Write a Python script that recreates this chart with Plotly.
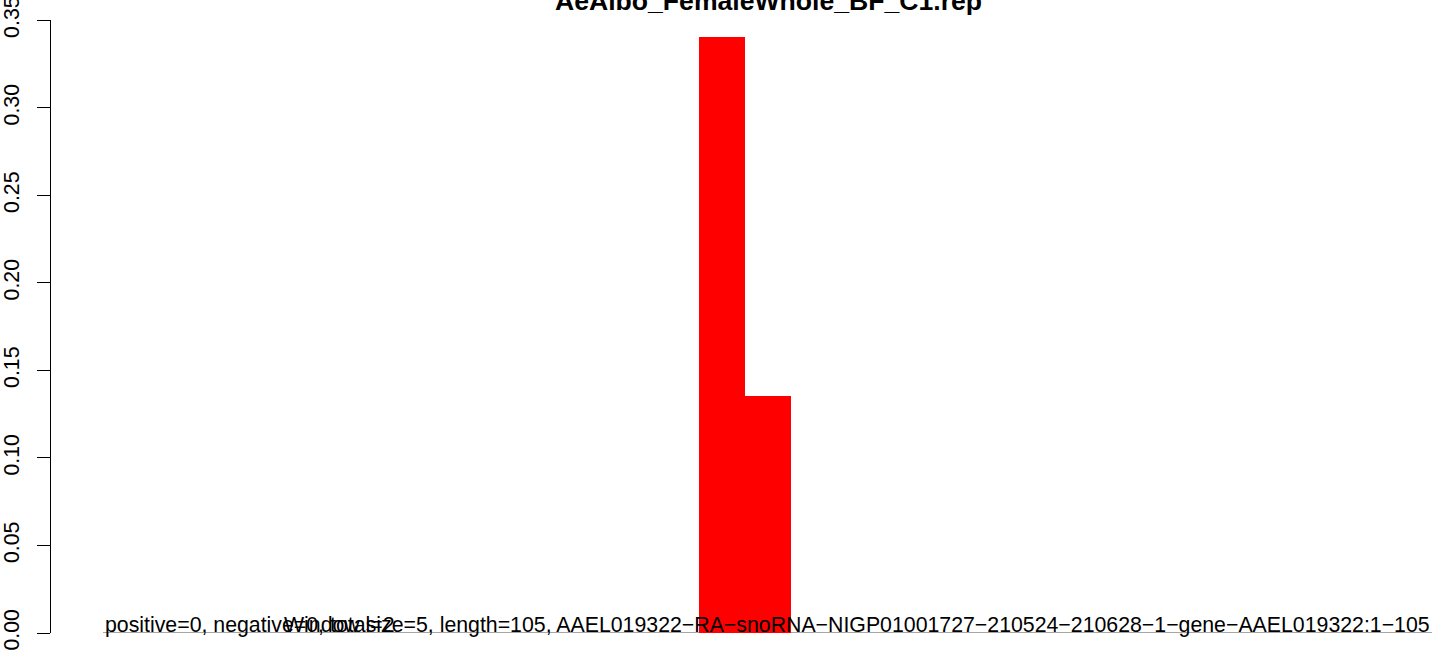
import plotly.graph_objects as go

# Data
window_starts = [65, 70]          # bp position of each window start
window_size = 5
values = [0.3403, 0.1353]
y_ticks = [0.0, 0.05, 0.10, 0.15, 0.20, 0.25, 0.30, 0.35]
title_text = "AeAlbo_FemaleWhole_BF_C1.rep"
info_left = "positive=0, negative=0, total=2"
info_right = ("Window size=5, length=105, AAEL019322\u2212RA\u2212snoRNA\u2212NIGP01001727"
              "\u2212210524\u2212210628\u22121\u2212gene\u2212AAEL019322:1\u2212105")

FONT = "Liberation Sans, Arial, Helvetica, sans-serif"
W, H = 1444, 656
ML, MR, MT, MB = 50, 10, 20, 23
plot_w = W - ML - MR
plot_h = H - MT - MB
x_left_px = 103
dom0 = (x_left_px - ML) / plot_w
BASE = 21.3
YMAX = 0.3502

centers = [s + window_size / 2 for s in window_starts]

fig = go.Figure()
fig.add_trace(go.Bar(
    x=centers, y=values, width=[window_size] * len(values),
    marker=dict(color="#ff0000", line=dict(width=0)),
    hoverinfo="skip", showlegend=False,
))

fig.add_shape(type="line", xref="x domain", yref="y", x0=0, x1=0.9985, y0=0, y1=0,
              line=dict(color="#4d4d4d", width=1), layer="below")

def py(px_from_top):
    return (H - MB - px_from_top) / plot_h

fig.add_annotation(text="<b>" + title_text + "</b>", xref="x domain", yref="paper",
                   x=0.5, y=py(12 + 6), xanchor="center", yanchor="bottom",
                   showarrow=False, font=dict(family=FONT, size=26.6, color="black"))
fig.add_annotation(text=info_left, xref="paper", yref="paper",
                   x=dom0, y=py(625), xanchor="left", yanchor="middle",
                   showarrow=False, font=dict(family=FONT, size=BASE, color="black"))
fig.add_annotation(text=info_right, xref="paper", yref="paper",
                   x=(1432 - ML) / plot_w, y=py(625), xanchor="right", yanchor="middle",
                   showarrow=False, font=dict(family=FONT, size=BASE, color="black"))

fig.update_layout(
    width=W, height=H,
    margin=dict(l=ML, r=MR, t=MT, b=MB, pad=0, autoexpand=False),
    paper_bgcolor="white", plot_bgcolor="white",
    bargap=0,
    xaxis=dict(domain=[dom0, 1], range=[0.22, 144.9], visible=False, automargin=False),
    yaxis=dict(
        anchor="free", position=0, range=[0, YMAX], automargin=False,
        tickvals=y_ticks, ticktext=[f"{v:.2f}" for v in y_ticks],
        tickangle=-90, ticks="outside", ticklen=13, tickwidth=1, tickcolor="black",
        ticklabelstandoff=9, ticklabeloverflow="allow",
        showline=True, linecolor="black", linewidth=1, showgrid=False, zeroline=False,
        tickfont=dict(family=FONT, size=BASE, color="black"),
    ),
    showlegend=False,
)

fig.write_html("out.html", config={"displayModeBar": False, "staticPlot": True},
               post_script="document.body.style.margin='0';document.body.style.overflow='hidden';")
